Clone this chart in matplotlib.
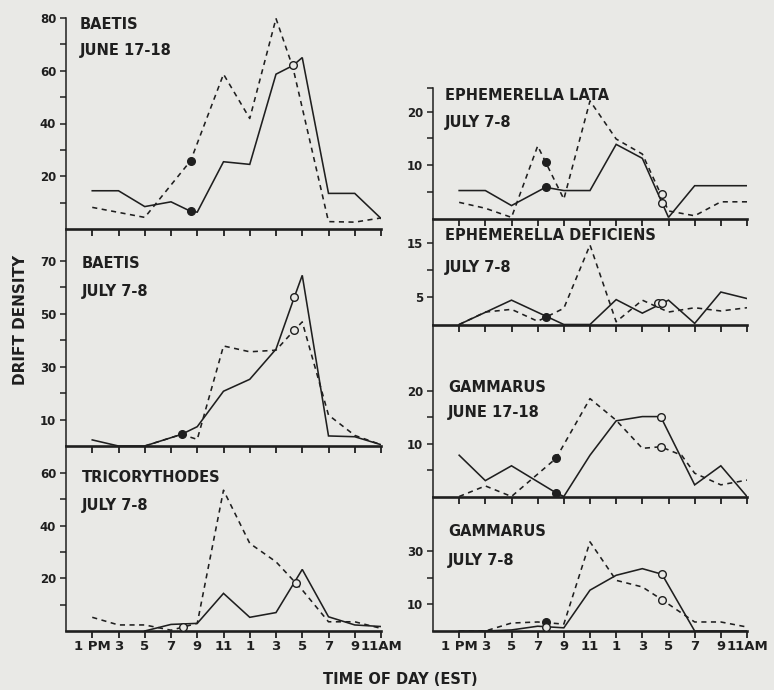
import matplotlib
matplotlib.use("Agg")
import matplotlib.pyplot as plt

W, H = 774, 690
BG = "#e9e9e6"
INK = "#1f1f1f"
FONT = "DejaVu Sans"

HOUR_TICKS = [13, 15, 17, 19, 21, 23, 25, 27, 29, 31, 33, 35]
HOUR_LABELS = ["1 PM", "3", "5", "7", "9", "11", "1", "3", "5", "7", "9", "11AM"]

# ---- Baetis, June 17-18 ----
baetis_jun_solid_x = [13, 15, 17, 19, 20.5, 21, 23, 25, 27, 28.3, 29, 31, 33, 35]
baetis_jun_solid_y = [14.5, 14.5, 8.5, 10.3, 6.7, 6.4, 25.5, 24.5, 58.7, 62, 65, 13.5, 13.5, 4]
baetis_jun_dash_x = [13, 17, 20.5, 23, 25, 27, 28.3, 31, 33, 35]
baetis_jun_dash_y = [8.2, 4.4, 25.9, 58.7, 41.9, 79.8, 61, 2.8, 2.6, 4.2]
baetis_jun_filled = [(20.5, 6.7), (20.5, 25.9)]
baetis_jun_open = [(28.3, 62)]

# ---- Baetis, July 7-8 ----
baetis_jul_solid_x = [13, 15, 17, 19.8, 21, 23, 25, 27, 28.4, 29, 31, 33, 35]
baetis_jul_solid_y = [2.3, 0, 0, 4.4, 7.3, 20.7, 25.2, 36.6, 56.3, 64.5, 3.8, 3.5, 0.5]
baetis_jul_dash_x = [17, 19.8, 21, 23, 25, 27, 28.4, 29, 31, 33, 35]
baetis_jul_dash_y = [0, 4.4, 2.5, 37.8, 35.6, 36.2, 43.8, 46.9, 11.7, 4, 0.5]
baetis_jul_filled = [(19.8, 4.4)]
baetis_jul_open = [(28.4, 56.3), (28.4, 43.8)]

# ---- Tricorythodes, July 7-8 ----
trico_solid_x = [17, 19, 21, 23, 25, 27, 29, 31, 33, 35]
trico_solid_y = [0, 2.5, 2.9, 14.3, 5.2, 7, 23.4, 5.4, 2.3, 1.7]
trico_dash_x = [13, 15, 17, 19, 21, 23, 25, 27, 29, 31, 33, 35]
trico_dash_y = [5.2, 2.3, 2.3, 0.3, 2.9, 53.5, 33.3, 26.3, 15.6, 3.5, 3.5, 1]
trico_filled = []
trico_open = [(19.9, 1.4), (28.55, 18.3)]

# ---- Ephemerella lata, July 7-8 ----
lata_solid_x = [13, 15, 17, 19.6, 21, 23, 25, 27, 29, 31, 33, 35]
lata_solid_y = [5.3, 5.3, 2.5, 5.9, 5.3, 5.3, 13.9, 11.3, 0.3, 6.2, 6.2, 6.2]
lata_dash_x = [13, 15, 17, 19, 21, 23, 25, 27, 29, 31, 33, 35]
lata_dash_y = [3.1, 2.0, 0.3, 13.6, 3.7, 22, 14.9, 12.1, 1.5, 0.6, 3.2, 3.2]
lata_filled = [(19.6, 5.9), (19.6, 10.7)]
lata_open = [(28.5, 4.6), (28.5, 2.9)]

# ---- Ephemerella deficiens, July 7-8 ----
defic_solid_x = [13, 17, 21, 23, 25, 27, 29, 31, 33, 35]
defic_solid_y = [0, 4.5, 0, 0, 4.6, 2.1, 4.5, 0.2, 6.0, 4.8]
defic_dash_x = [13, 15, 17, 19, 21, 23, 25, 27, 29, 31, 33, 35]
defic_dash_y = [0, 2.3, 2.8, 0.6, 3, 14.7, 0.5, 4.5, 2.3, 3.1, 2.5, 3.1]
defic_filled = [(19.6, 1.4)]
defic_open = [(28.2, 4.0), (28.5, 4.0)]

# ---- Gammarus, June 17-18 ----
gam_jun_solid_x = [13, 15, 17, 20.4, 21, 23, 25, 27, 28.4, 31, 33, 35]
gam_jun_solid_y = [7.8, 3.0, 5.8, 0.7, 0, 7.8, 14.3, 15.1, 15.1, 2.2, 5.8, 0]
gam_jun_dash_x = [13, 15, 17, 20.4, 23, 25, 27, 28.4, 30, 31, 33, 35]
gam_jun_dash_y = [0, 2, 0, 7.2, 18.5, 14.4, 9.1, 9.4, 7.8, 4.4, 2.2, 3.1]
gam_jun_filled = [(20.4, 0.7), (20.4, 7.2)]
gam_jun_open = [(28.4, 15.1), (28.4, 9.4)]

# ---- Gammarus, July 7-8 ----
gam_jul_solid_x = [13, 15, 17, 19, 21, 23, 25, 27, 28.5, 31, 33, 35]
gam_jul_solid_y = [0, 0, 0.4, 1.8, 1.2, 15.4, 21, 23.5, 21.4, 0, 0, 0]
gam_jul_dash_x = [13, 15, 17, 19, 21, 23, 25, 27, 28.5, 31, 33, 35]
gam_jul_dash_y = [0, 0, 3, 3.4, 2.6, 33.6, 19.1, 16.6, 11.8, 3.4, 3.4, 1.5]
gam_jul_filled = [(19.6, 3.3)]
gam_jul_open = [(19.6, 1.5), (28.5, 21.4), (28.5, 11.8)]

# panel specs: (name, date, solid, dash, filled, open, ytop, yticks, ylabels,
#               box px (left, top, right, bottom), title px (x, y1, y2), show x labels)
panels = [
    ("BAETIS", "JUNE 17-18",
     (baetis_jun_solid_x, baetis_jun_solid_y), (baetis_jun_dash_x, baetis_jun_dash_y),
     baetis_jun_filled, baetis_jun_open, 80,
     [10, 20, 30, 40, 50, 60, 70, 80], ["", "20", "", "40", "", "60", "", "80"],
     (66, 18, 381, 229), (80, 24.5, 50.5), False),
    ("BAETIS", "JULY 7-8",
     (baetis_jul_solid_x, baetis_jul_solid_y), (baetis_jul_dash_x, baetis_jul_dash_y),
     baetis_jul_filled, baetis_jul_open, 82,
     [10, 20, 30, 40, 50, 60, 70], ["10", "", "30", "", "50", "", "70"],
     (66, 229, 381, 446), (82, 264, 292), False),
    ("TRICORYTHODES", "JULY 7-8",
     (trico_solid_x, trico_solid_y), (trico_dash_x, trico_dash_y),
     trico_filled, trico_open, 70.3,
     [10, 20, 30, 40, 50, 60], ["", "20", "", "40", "", "60"],
     (66, 446, 381, 631), (82, 477, 505.5), True),
    ("EPHEMERELLA LATA", "JULY 7-8",
     (lata_solid_x, lata_solid_y), (lata_dash_x, lata_dash_y),
     lata_filled, lata_open, 24.4,
     [5, 10, 15, 20, 24.4], ["", "10", "", "20", ""],
     (433, 88, 747, 219), (445, 96, 122), False),
    ("EPHEMERELLA DEFICIENS", "JULY 7-8",
     (defic_solid_x, defic_solid_y), (defic_dash_x, defic_dash_y),
     defic_filled, defic_open, 19.5,
     [5, 10, 15], ["5", "", "15"],
     (433, 219, 747, 324.5), (445, 235.5, 267.5), False),
    ("GAMMARUS", "JUNE 17-18",
     (gam_jun_solid_x, gam_jun_solid_y), (gam_jun_dash_x, gam_jun_dash_y),
     gam_jun_filled, gam_jun_open, 32.5,
     [5, 10, 15, 20], ["", "10", "", "20"],
     (433, 324.5, 747, 496.5), (448, 387, 413), False),
    ("GAMMARUS", "JULY 7-8",
     (gam_jul_solid_x, gam_jul_solid_y), (gam_jul_dash_x, gam_jul_dash_y),
     gam_jul_filled, gam_jul_open, 50.7,
     [10, 20, 30], ["10", "", "30"],
     (433, 496.5, 747, 631), (448, 532, 560), True),
]

plt.rcParams["font.family"] = [FONT]
plt.rcParams["font.weight"] = "bold"

fig = plt.figure(figsize=(W / 100, H / 100), dpi=100, facecolor=BG)


def fx(px):
    return px / W


def fy(py):
    return 1 - py / H


for (name, date, solid, dash, filled, opened, ytop, yt, yl, box, tpos, showx) in panels:
    l, t, r, b = box
    ax = fig.add_axes([fx(l), fy(b), fx(r) - fx(l), fy(t) - fy(b)])
    ax.patch.set_visible(False)
    ax.set_xlim(11, 35)
    ax.set_ylim(0, ytop)
    ax.plot(solid[0], solid[1], color=INK, lw=1.15, solid_joinstyle="miter", zorder=3)
    ax.plot(dash[0], dash[1], color=INK, lw=1.15, dashes=(3.2, 2.8), zorder=3)
    for (x, y) in filled:
        ax.plot([x], [y], "o", ms=5.5, mfc=INK, mec=INK, zorder=4)
    for (x, y) in opened:
        ax.plot([x], [y], "o", ms=5.5, mfc=BG, mec=INK, mew=1.0, zorder=5)
    for s in ("top", "right"):
        ax.spines[s].set_visible(False)
    ax.spines["left"].set_linewidth(1.1)
    ax.spines["bottom"].set_linewidth(1.9)
    ax.spines["left"].set_color(INK)
    ax.spines["bottom"].set_color(INK)
    ax.set_xticks(HOUR_TICKS)
    ax.set_xticklabels(HOUR_LABELS if showx else [""] * len(HOUR_TICKS))
    ax.set_yticks(yt)
    ax.set_yticklabels(yl)
    ax.tick_params(axis="x", direction="out", length=5, width=1.3, color=INK,
                   labelsize=9.5, pad=1.5, labelcolor=INK)
    ax.tick_params(axis="y", direction="out", length=4.5, width=1.1, color=INK,
                   labelsize=8.5, pad=2.5, labelcolor=INK)
    for lab in ax.get_xticklabels() + ax.get_yticklabels():
        lab.set_fontweight("bold")
    fig.text(fx(tpos[0]), fy(tpos[1]), name, fontsize=10.5, fontweight="bold",
             color=INK, ha="left", va="center")
    fig.text(fx(tpos[0]), fy(tpos[2]), date, fontsize=10.5, fontweight="bold",
             color=INK, ha="left", va="center")

fig.text(fx(21), fy(320), "DRIFT DENSITY", rotation=90, fontsize=11, fontweight="bold",
         color=INK, ha="center", va="center")
fig.text(fx(400), fy(680), "TIME OF DAY (EST)", fontsize=10.5, fontweight="bold",
         color=INK, ha="center", va="center")

fig.savefig("out.png", dpi=100, facecolor=BG)
